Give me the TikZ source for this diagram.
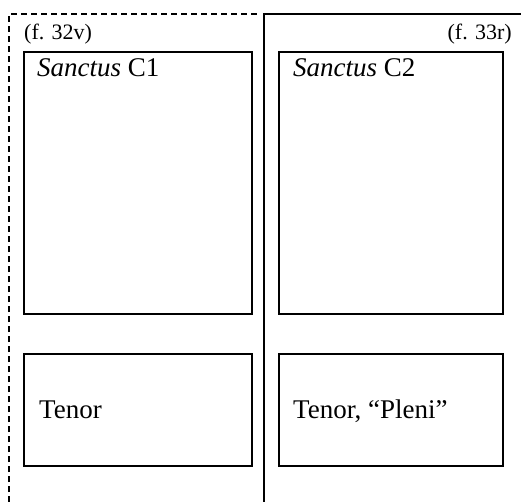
\documentclass[tikz,border=0pt]{standalone}
\usepackage{fontspec}
\setmainfont{Liberation Serif}
\tikzset{
  pagebox/.style={line width=2.4pt},
  voicebox/.style={line width=2.4pt},
  folio/.style={font=\fontsize{22}{26}\selectfont,inner sep=0pt},
  part/.style={font=\fontsize{27}{32}\selectfont,inner sep=0pt,anchor=base west},
}
\begin{document}
\begin{tikzpicture}[x=1pt,y=1pt]
\useasboundingbox(0,0) rectangle (521,-502);
\pgfmathsetmacro{\ktop}{-52}
\pgfmathsetmacro{\kmid}{-314}
\pgfmathsetmacro{\klow}{-354}
\pgfmathsetmacro{\kbot}{-466}
% pages
\draw[pagebox,dash pattern=on 6pt off 4pt](9,-502)--(9,-14)--(259,-14);
\draw[pagebox](264,-502)--(264,-14)--(521,-14);
% voice boxes
\foreach \kl/\kr in {24/252,279/503}{\draw[voicebox](\kl,\ktop) rectangle (\kr,\kmid);}
\foreach \kl/\kr in {24/252,279/503}{\draw[voicebox](\kl,\klow) rectangle (\kr,\kbot);}
% labels
\node[folio,anchor=base west](fl) at (24,-40){(f. 32v)};
\node[folio,anchor=base east](fr) at (512,-40){(f. 33r)};
\node[part](sc1) at (37,-77){\textit{Sanctus} C1};
\node[part](sc2) at (293,-77){\textit{Sanctus} C2};
\node[part](tn1) at (39,-418){Tenor};
\node[part](tn2) at (293,-418){Tenor, “Pleni”};
\end{tikzpicture}
\end{document}
